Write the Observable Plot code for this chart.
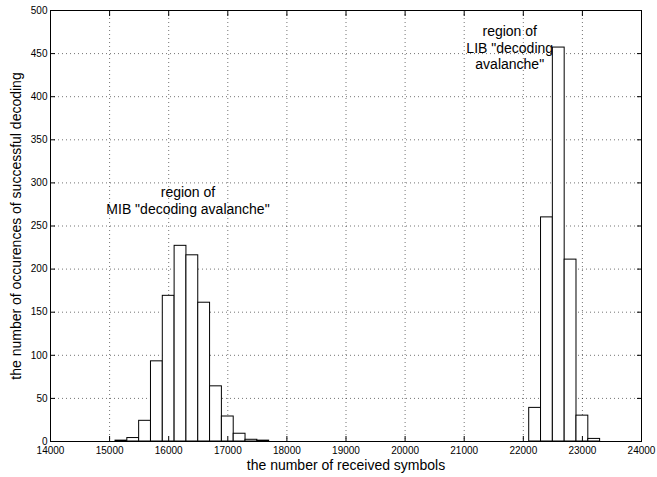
<!DOCTYPE html>
<html>
<head>
<meta charset="utf-8">
<script src="https://cdn.jsdelivr.net/npm/d3@7"></script>
<script src="https://cdn.jsdelivr.net/npm/@observablehq/plot@0.6"></script>
<style>
  body { margin: 0; background: #fff; }
  #chart svg { font-family: "Liberation Sans", Arial, Helvetica, sans-serif; }
</style>
</head>
<body>
<div id="chart"></div>
<script>
// Bin centers (received symbols) and counts
const binWidth = 200;
const mibCenters = [15200, 15400, 15600, 15800, 16000, 16200, 16400, 16600, 16800, 17000, 17200, 17400, 17600];
const mibCounts  = [1, 4, 24, 93, 169, 227, 216, 161, 64, 29, 9, 2, 1];
const libCenters = [22200, 22400, 22600, 22800, 23000, 23200];
const libCounts  = [39, 260, 457, 211, 30, 3];

const xTicks = [14000, 15000, 16000, 17000, 18000, 19000, 20000, 21000, 22000, 23000, 24000];
const yTicks = [0, 50, 100, 150, 200, 250, 300, 350, 400, 450, 500];

const annotations = [
  {x: 16326, y: 280, text: "region of\nMIB \"decoding avalanche\""},
  {x: 21770, y: 457, text: "region of\nLIB \"decoding\navalanche\""}
];

const bars = [];
mibCenters.forEach((c, i) => bars.push({x1: c - binWidth / 2, x2: c + binWidth / 2, y: mibCounts[i]}));
libCenters.forEach((c, i) => bars.push({x1: c - binWidth / 2, x2: c + binWidth / 2, y: libCounts[i]}));

const blank = () => "";
const plain = d3.format("d");

const chart = Plot.plot({
  width: 657,
  height: 477,
  marginLeft: 50,
  marginRight: 16,
  marginTop: 10,
  marginBottom: 36,
  style: {fontSize: "10px", fontFamily: "Liberation Sans, Arial, Helvetica, sans-serif", color: "#000", background: "#fff"},
  x: {domain: [14000, 24000]},
  y: {domain: [0, 500]},
  marks: [
    Plot.gridX(xTicks, {stroke: "#000", strokeOpacity: 0.55, strokeDasharray: "1,3"}),
    Plot.gridY(yTicks, {stroke: "#000", strokeOpacity: 0.55, strokeDasharray: "1,3"}),
    Plot.rectY(bars, {x1: "x1", x2: "x2", y: "y", fill: "white", stroke: "black", strokeWidth: 1}),
    Plot.axisX(xTicks, {tickSize: 0, tickPadding: 5, fontSize: 10, tickFormat: plain, label: "the number of received symbols", labelArrow: "none", labelAnchor: "center", labelOffset: 28}),
    Plot.axisX(xTicks, {tickSize: -5, tickFormat: blank, label: null}),
    Plot.axisX(xTicks, {anchor: "top", tickSize: -5, tickFormat: blank, label: null}),
    Plot.axisY(yTicks, {tickSize: 0, tickPadding: 3, fontSize: 10, tickFormat: plain, label: "the number of occurences of successful decoding", labelArrow: "none", labelAnchor: "center", labelOffset: 39}),
    Plot.axisY(yTicks, {tickSize: -5, tickFormat: blank, label: null}),
    Plot.axisY(yTicks, {anchor: "right", tickSize: -5, tickFormat: blank, label: null}),
    Plot.frame({stroke: "black", strokeWidth: 1}),
    Plot.text(annotations, {x: "x", y: "y", text: "text", fontSize: 14, lineHeight: 1.18, textAnchor: "middle", lineAnchor: "middle", fill: "black"})
  ]
});

// enlarge axis label fonts
chart.querySelectorAll("[aria-label$='axis label'] text").forEach(t => t.setAttribute("font-size", "14"));
document.getElementById("chart").appendChild(chart);
</script>
</body>
</html>
